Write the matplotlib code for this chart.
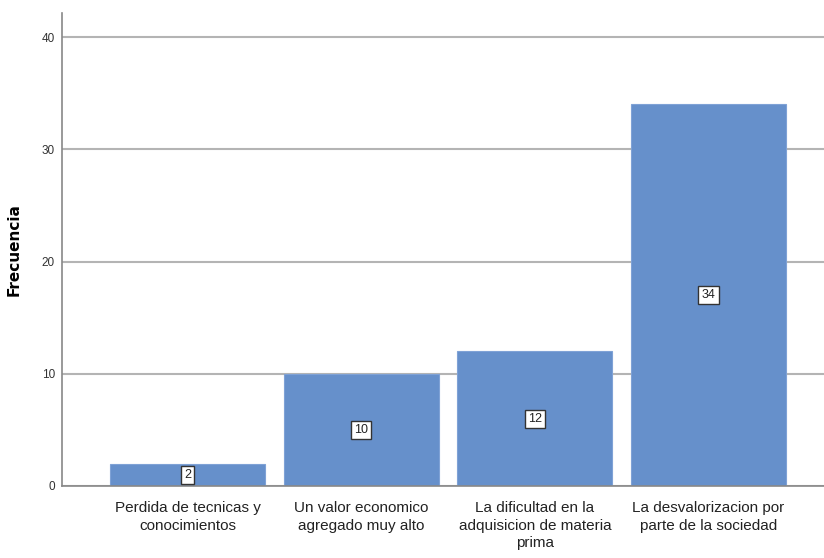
import matplotlib
matplotlib.use("Agg")
import matplotlib.pyplot as plt

categories = ["Perdida de tecnicas y\nconocimientos",
              "Un valor economico\nagregado muy alto",
              "La dificultad en la\nadquisicion de materia\nprima",
              "La desvalorizacion por\nparte de la sociedad"]
values = [2, 10, 12, 34]
yticks = [0, 10, 20, 30, 40]

plt.rcParams['font.family'] = ['Liberation Sans', 'DejaVu Sans']

fig = plt.figure(figsize=(8.24, 5.58), dpi=100)
ax = fig.add_axes([62/824, 1-486/558, 1-62/824, (486-13)/558])

x = list(range(len(values)))
ax.set_axisbelow(True)
ax.grid(axis='y', color='#b4b4b4', linewidth=1.5)
bars = ax.bar(x, values, width=0.892, color='#6690cb', edgecolor='#7fa2d6', linewidth=0.8, zorder=2)
for xi, v in zip(x, values):
    ax.text(xi, v/2, str(v), ha='center', va='center', fontsize=9, color='#222222', zorder=3,
            bbox=dict(boxstyle='square,pad=0.25', facecolor='white', edgecolor='#333333', linewidth=1.0))

ax.set_xlim(-0.7225, 3.665)
ax.set_ylim(0, 42.14)
ax.set_yticks(yticks)
ax.set_xticks(x)
ax.set_xticklabels(categories, fontsize=11, color='#222222', linespacing=1.32)
ax.tick_params(axis='x', length=0, pad=11)
ax.tick_params(axis='y', length=0, pad=5, labelsize=8.5, labelcolor='#333333')
for s in ['top', 'right']:
    ax.spines[s].set_visible(False)
for s in ['left', 'bottom']:
    ax.spines[s].set_color('#888888')
    ax.spines[s].set_linewidth(1.2)
ax.set_ylabel('Frecuencia', fontsize=11, fontweight='bold', family=['DejaVu Sans'])
ax.yaxis.set_label_coords((22-62)/762, 0.5)

fig.savefig('out.png', dpi=100)
